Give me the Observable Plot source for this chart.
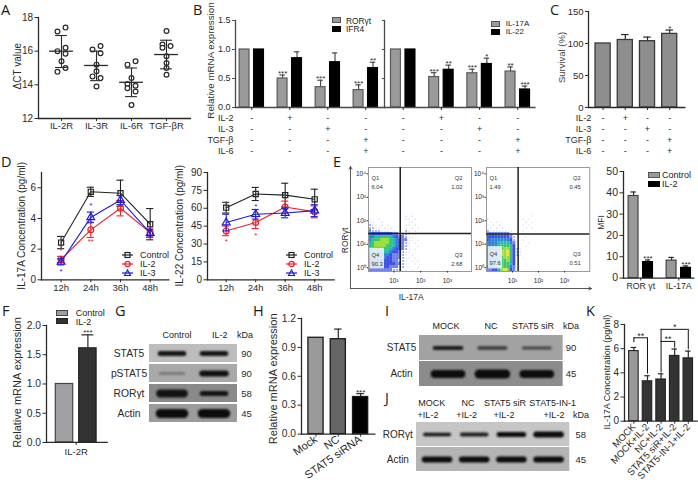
<!DOCTYPE html>
<html><head><meta charset="utf-8">
<script src="https://cdn.jsdelivr.net/npm/d3@7"></script>
<script src="https://cdn.jsdelivr.net/npm/@observablehq/plot@0.6"></script>
<style>
html,body{margin:0;padding:0;background:#fff}
#fig{position:relative;width:698px;height:483px;overflow:hidden;font-family:"Liberation Sans",Arial,sans-serif;color:#222}
.l{position:absolute;white-space:pre;line-height:1}
.s{position:absolute;box-sizing:border-box}
</style></head><body><div id="fig"></div>
<script>
/* ---------- data ---------- */
const recCats=["IL-2R","IL-3R","IL-6R","TGF-βR"];
const dCt=[[17.4,17.17,16.2,16.0,15.85,15.4,15.0,14.77],[16.1,16.3,15.88,15.2,14.8,14.5,14.4,13.9],[15.2,15.4,14.4,14.05,13.95,13.8,13.6,12.8],[17.2,16.4,16.3,16.2,15.7,15.3,15.0,14.6]];
const dCtSide=[[1,-1,1,-1,1,0,1,-1],[-1,1,1,0,0,-1,1,0],[-1,1,0,-1,1,-1,1,0],[0,-1,1,-1,0,0,0,0]];
const dCtMean=[16,15.15,14.15,15.8],dCtLo=[15.03,14.25,13.3,14.95],dCtHi=[16.93,16.0,15.0,16.65];

const treatRows=["IL-2","IL-3","TGF-β","IL-6"];
const treatSigns=[["-","+","-","-"],["-","-","+","-"],["-","-","-","+"],["-","-","-","+"]];

const rorgt=[1,.5,.35,.3],rorgtErr=[null,.56,.47,.39],rorgtSig=["","***","***","***"];
const ifr4=[1,.85,.78,.68],ifr4Err=[null,.96,.94,.78],ifr4Sig=["","","","**"];
const il17=[1,.525,.59,.62],il17Err=[null,.6,.66,.7],il17Sig=["","***","***","**"];
const il22=[1,.65,.75,.31],il22Err=[null,.73,.85,.37],il22Sig=["","**","*","***"];
const survival=[100,105.5,103.6,115],survivalErr=[null,114,110,121],survivalSig=["","","","*"];

const hours=["12h","24h","36h","48h"];
const d17={Control:{v:[2.43,5.74,5.65,3.63],e:[.4,.3,.85,1.02]},"IL-2":{v:[1.33,3.26,4.67,3.08],e:[.2,.5,.5,.3]},"IL-3":{v:[1.17,4.07,5.2,3.04],e:[.2,.35,.3,.25]}};
const d22={Control:{v:[60.5,72,71,67.5],e:[4.5,5.5,10,8.5]},"IL-2":{v:[41,48,61,57],e:[4,5,5,5]},"IL-3":{v:[48,55,56,58],e:[7,4,4,5]}};
const d17Sig=[{t:0,v:2.0,s:"*",k:"IL-2"},{t:0,v:.62,s:"*",k:"IL-3"},{t:1,v:4.9,s:"*",k:"IL-3"},{t:1,v:2.55,s:"**",k:"IL-2"}];
const d22Sig=[{t:0,v:33,s:"*",k:"IL-2"},{t:1,v:62,s:"*",k:"IL-3"},{t:1,v:38,s:"*",k:"IL-2"}];

const mfiCats=["ROR γt","IL-17A"];
const mfiControl=[38.5,8.2],mfiControlErr=[40.4,9.7],mfiIl2=[7.5,4.8],mfiIl2Err=[8.5,5.7],mfiSig=["***","***"];

const il2r=[1,1.61],il2rErr=[null,1.84],il2rSig=["","***"];
const siCats=["Mock","NC","STAT5 siRNA"];
const siVal=[1,.985,.385],siErr=[null,1.09,.42],siSig=["","","***"];
const kCats=["MOCK","MOCK+IL-2","NC+IL-2","STAT5 siR+IL-2","STAT5-IN-1+IL-2"];
const kVal=[5.8,3.3,3.45,5.4,5.2],kErr=[6.1,3.76,3.92,5.97,5.8];
const kBrackets=[{a:0,b:1,top:6.9,ea:6.5,eb:3.9,s:"**"},{a:2,b:3,top:6.6,ea:4,eb:6.05,s:"**"},{a:2,b:4,top:7.6,ea:6.6,eb:5.9,s:"*"}];

// flow cytometry densities (0 = empty, 9 = densest), top row first
const flowA=["000000000000101000","100100000000110100","110010000000011000","211010100000110100","221101010000101010","322211101010210100","544444443322210100","556667765433211000","567788876543311010","678888876543210100","678888776543210010","677777765443210100","666666654432110000","555555543332101000","555555443332110100","444444443322101010","444444444332100100","444444433322110010","333333332221101000"];
const flowB=["000000000000000100","100000000000101000","010100000000010100","101010000000101000","110101000000010100","211111101000100000","333333332100100000","444444443210010000","455555554210100000","555566665310001000","555567776410010000","555567887421000000","555568897421000000","555568897421000000","555567887410100000","555567786410000000","555567776410010000","445567775310000000","334468984310000000"];
const quadA=["6.04","1.02","2.68","90.3"],quadB=["1.49","0.45","0.51","97.6"];

const gLanes=["Control","IL-2"];
const gRows=["STAT5","pSTAT5","RORγt","Actin"],gKda=["90","90","58","45"];
const gBand=[[5,5],[2.5,6],[8,5],[9,9]],gDark=[[.95,.95],[.35,.98],[.95,.95],[1,1]];
const iLanes=["MOCK","NC","STAT5 siR"];
const iRows=["STAT5","Actin"],iKda=["90","45"];
const iBand=[[4,3.5,3],[8,9,8]],iDark=[[.9,.7,.65],[1,1,1]];
const jLanes1=["MOCK","NC","STAT5 siR","STAT5-IN-1"],jLanes2=["+IL-2","+IL-2","+IL-2","+IL-2"];
const jRows=["RORγt","Actin"],jKda=["58","45"];
const jBand=[[3.5,4,5,6],[6,6,6,6]],jDark=[[.95,.9,1,1],[1,1,1,1]];

/* ---------- helpers ---------- */
const fig=document.getElementById("fig");
const INK="#2a2a2a";
function panel(box,pad,opts,marks){
  const [x0,x1,y0,y1]=box,[pl,pr,pt,pb]=pad;
  const svg=Plot.plot({
    width:x1-x0+pl+pr,height:y1-y0+pt+pb,
    marginLeft:pl,marginRight:pr,marginTop:pt,marginBottom:pb,
    style:{position:"absolute",left:(x0-pl)+"px",top:(y0-pt)+"px",background:"transparent",overflow:"visible",maxWidth:"none",fontFamily:'"Liberation Sans",Arial,sans-serif',color:INK},
    ...opts,marks:marks.flat(Infinity)});
  fig.appendChild(svg);
}
const xd=(box,pos0,step)=>({type:"linear",domain:[(box[0]-pos0)/step,(box[1]-pos0)/step]});
const pt=(box,str,x,y,o={})=>Plot.text([str],{frameAnchor:"top-left",textAnchor:"middle",lineAnchor:"middle",dx:x-box[0],dy:y-box[2],fontSize:9.5,...o});
const axes=(yt,o={})=>[
  Plot.frame({anchor:"left",stroke:o.c||INK,strokeWidth:o.sw||1.3}),
  Plot.frame({anchor:"bottom",stroke:o.c||INK,strokeWidth:o.sw||1.3}),
  Plot.axisY({ticks:yt,tickSize:o.ts||3,tickPadding:o.tp||2,fontSize:o.fs||9.5,label:null,strokeWidth:1,tickFormat:o.yf||(d=>String(d)),stroke:o.c||INK})
];
const ser=(v,e,s,off)=>v.map((d,i)=>({x:i+off,v:d,e:e[i],s:s?s[i]:""}));
function bars(rows,hw,fill,stroke,o={}){
  const withE=rows.filter(d=>d.e!=null),cap=o.cap??hw*.55;
  return [
    Plot.ruleX(withE,{x:"x",y1:"v",y2:"e",stroke:o.ec||INK,strokeWidth:1.2}),
    Plot.ruleY(withE,{y:"e",x1:d=>d.x-cap,x2:d=>d.x+cap,stroke:o.ec||INK,strokeWidth:1.2}),
    Plot.rectY(rows,{x1:d=>d.x-hw,x2:d=>d.x+hw,y:"v",fill,stroke,strokeWidth:o.sw||1.2}),
    Plot.text(rows.filter(d=>d.s),{x:"x",y:d=>d.e??d.v,text:"s",lineAnchor:"bottom",dy:o.sdy??1,fontSize:o.sf||8,fill:INK})
  ];
}
const xTicks=(n,o={})=>Plot.axisX({ticks:d3.range(n),tickSize:3,tickPadding:o.tp??2,fontSize:o.fs||9.5,label:null,strokeWidth:1,tickFormat:o.f||(()=>""),...o.extra});
function label(t,x,y,o={}){
  const e=document.createElement("div");e.className="l";e.textContent=t;
  e.style.left=x+"px";e.style.top=y+"px";e.style.fontSize=(o.fs||9.5)+"px";
  e.style.transform=`translate(${o.ax??0}%,-50%)`;
  if(o.ff){e.style.fontFamily=o.ff;e.style.lineHeight="1.2";}
  if(o.c)e.style.color=o.c;
  fig.appendChild(e);
}
function swatch(x0,x1,y0,y1,fill,stroke){
  const e=document.createElement("div");e.className="s";
  e.style.cssText=`left:${x0}px;width:${x1-x0}px;top:${y0}px;height:${y1-y0}px;background:${fill};border:1px solid ${stroke}`;
  fig.appendChild(e);
}
function lineKey(x0,x1,y,c,sym){
  const w=x1-x0,ns="http://www.w3.org/2000/svg",s=document.createElementNS(ns,"svg");
  s.setAttribute("width",w);s.setAttribute("height",10);
  s.style.cssText=`position:absolute;left:${x0}px;top:${y-5}px`;
  const m=w/2;
  const shape=sym==="square"?`<rect x="${m-2.5}" y="2.5" width="5" height="5" fill="none" stroke="${c}" stroke-width="1.2"/>`:
    sym==="circle"?`<circle cx="${m}" cy="5" r="2.7" fill="none" stroke="${c}" stroke-width="1.2"/>`:
    `<path d="M${m-3} 7.5L${m} 2L${m+3} 7.5Z" fill="none" stroke="${c}" stroke-width="1.2"/>`;
  s.innerHTML=`<line x1="0" x2="${w}" y1="5" y2="5" stroke="${c}" stroke-width="1.2"/>${shape}`;
  fig.appendChild(s);
}

/* panel letters */
[["A",1,10],["B",193,10],["C",550,10],["D",1,162],["E",333,162],["F",2,311],["G",115,311],["H",253,311],["I",385,311],["J",385,398],["K",586,311]]
 .forEach(([t,x,y])=>label(t,x,y,{fs:14.5,ff:'"Open Sans",sans-serif',c:"#1a1a1a"}));

/* ---------- A ---------- */
{
  const box=[38,190,17,118];
  const pts=dCt.flatMap((g,i)=>g.map((v,j)=>({x:i+dCtSide[i][j]*.115,v})));
  const g=recCats.map((c,i)=>({i,m:dCtMean[i],lo:dCtLo[i],hi:dCtHi[i]}));
  panel(box,[30,8,6,14],{x:xd(box,61,35),y:{domain:[12,18]}},[
    axes([12,14,16,18],{fs:10,ts:3.5}),
    xTicks(4,{f:i=>recCats[i],fs:9.5,tp:1}),
    Plot.dot(pts,{x:"x",y:"v",r:2.4,stroke:INK,strokeWidth:1.2,fill:"white"}),
    Plot.ruleX(g,{x:"i",y1:"lo",y2:"hi",stroke:INK,strokeWidth:1.1}),
    Plot.ruleY(g,{y:"lo",x1:d=>d.i-.17,x2:d=>d.i+.17,stroke:INK,strokeWidth:1.1}),
    Plot.ruleY(g,{y:"hi",x1:d=>d.i-.17,x2:d=>d.i+.17,stroke:INK,strokeWidth:1.1}),
    Plot.ruleY(g,{y:"m",x1:d=>d.i-.34,x2:d=>d.i+.34,stroke:INK,strokeWidth:1.3}),
    pt(box,"ΔCT value",17,65.7,{rotate:-90,fontSize:10})
  ]);
}

/* ---------- B ---------- */
const signMarks=(box,fs=9)=>treatRows.map((r,i)=>Plot.text(treatSigns[i],{x:(d,j)=>j,frameAnchor:"bottom",lineAnchor:"middle",dy:10.5+10.9*i,fontSize:fs,fill:INK}));
const rowLabels=(box,x)=>treatRows.map((r,i)=>pt(box,r,x,117.5+10.9*i,{textAnchor:"end",fontSize:9}));
{
  const box=[235,384.3,20,107],G="#4a4a4a",BARG="#9a9a9a";
  panel(box,[22,0,4,48],{x:xd(box,251.3,38),y:{domain:[0,1.5]}},[
    bars(ser(rorgt,rorgtErr,rorgtSig,-.19),.13,BARG,"#5a5a5a",{ec:G}),
    bars(ser(ifr4,ifr4Err,ifr4Sig,.19),.13,"#000","#000",{ec:G}),
    axes([0,.5,1,1.5],{c:G,fs:9,yf:d3.format(".1f")}),
    xTicks(4,{tp:0}),signMarks(box),rowLabels(box,233),
    pt(box,"Relative mRNA expression",210,60,{rotate:-90,fontSize:9.8,fill:"#333"})
  ]);
  const b2=[384.3,534.7,20,107];
  panel(b2,[0,2,4,48],{x:xd(b2,403,38.2),y:{domain:[0,1.5]}},[
    bars(ser(il17,il17Err,il17Sig,-.19),.13,BARG,"#5a5a5a",{ec:G}),
    bars(ser(il22,il22Err,il22Sig,.19),.13,"#000","#000",{ec:G}),
    axes([0,.5,1,1.5],{c:G,yf:()=>"",ts:2}),
    xTicks(4,{tp:0}),signMarks(b2)
  ]);
  swatch(331.7,340.7,17,23,BARG,"#555");swatch(331.7,340.7,25.5,31.5,"#000","#000");
  label("RORγt",346,20.5,{fs:8.4});label("IFR4",346,29,{fs:8.4});
  swatch(490.7,500,21,27,BARG,"#555");swatch(490.7,500,29,35,"#000","#000");
  label("IL-17A",505.7,23.7,{fs:8});label("IL-22",505.7,32,{fs:8});
}

/* ---------- C ---------- */
{
  const box=[587.7,684,10.7,106.7];
  panel(box,[28,2,3,48],{x:xd(box,602.3,22.2),y:{domain:[0,150]}},[
    bars(ser(survival,survivalErr,survivalSig,0),.34,"#8e8e8e","#3a3a3a",{sw:1.3,cap:.17}),
    axes([0,50,100,150],{fs:9.5}),
    xTicks(4,{tp:0}),signMarks(box),rowLabels(box,590.5),
    pt(box,"Survival (%)",561,56.7,{rotate:-90,fontSize:9.5,fill:"#444"})
  ]);
}

/* ---------- D ---------- */
const COL={Control:"#222","IL-2":"#e8222c","IL-3":"#1c1cd8"},SYM={Control:"square","IL-2":"circle","IL-3":"triangle"};
function linePanel(box,pos0,step,ymax,yt,src,sig,ylabX,hwk){
  const rows=Object.entries(src).flatMap(([k,o])=>o.v.map((v,i)=>({k,t:i,v,lo:v-o.e[i],hi:v+o.e[i]})));
  const keys=Object.keys(src);
  panel(box,[30,4,4,16],{x:xd(box,pos0,step),y:{domain:[0,ymax]},color:{type:"identity"},symbol:{type:"identity"}},[
    axes(yt,{fs:10,ts:3.5}),
    xTicks(4,{f:i=>hours[i],fs:9.5,tp:1}),
    keys.map(k=>{const d=rows.filter(r=>r.k===k),c=COL[k];return [
      Plot.ruleX(d,{x:"t",y1:"lo",y2:"hi",stroke:c,strokeWidth:1.1}),
      Plot.ruleY(d,{y:"lo",x1:r=>r.t-.12,x2:r=>r.t+.12,stroke:c,strokeWidth:1.1}),
      Plot.ruleY(d,{y:"hi",x1:r=>r.t-.12,x2:r=>r.t+.12,stroke:c,strokeWidth:1.1}),
      Plot.line(d,{x:"t",y:"v",stroke:c,strokeWidth:1.1}),
      Plot.dot(d,{x:"t",y:"v",symbol:SYM[k],r:2.9,stroke:c,strokeWidth:1.2,fill:"none"})
    ];}),
    Plot.text(sig,{x:"t",y:"v",text:"s",fill:d=>COL[d.k],fontSize:8,lineAnchor:"middle",dy:1}),
    pt(box,src===d17?"IL-17A Concentration (pg/ml)":"IL-22 Concentration (pg/ml)",ylabX,225,{rotate:-90,fontSize:10})
  ]);
}
linePanel([40.7,168,171.7,279],60.3,29.7,7,[0,2,4,6],d17,d17Sig,21);
linePanel([207.3,334,171.7,279],226,29.5,90,[0,15,30,45,60,75,90],d22,d22Sig,180);
Object.keys(COL).forEach((k,i)=>{
  const y=255+9*i;
  lineKey(122,133,y,COL[k],SYM[k]);label(k,140,y,{fs:9});
  lineKey(286,297,y,COL[k],SYM[k]);label(k,304,y,{fs:9});
});

/* ---------- E flow plots ---------- */
const SUP=["⁰","¹","²","³","⁴"];
function flow(box,dom,grid,gx,gy,quad,wbox){
  const bx=.1125,by=.1275;
  const cells=grid.flatMap((s,r)=>[...s].map((c,col)=>({col,r:grid.length-1-r,d:+c}))).filter(d=>d.d>0);
  const yd=[-.16,4.27];
  const lab=(s,ax,dx,dy,fs=5.8)=>Plot.text([s],{frameAnchor:ax,dx,dy,fontSize:fs,fill:"#333"});
  panel(box,[16,2,3,14],{
    x:{type:"linear",domain:dom},y:{type:"linear",domain:yd},r:{type:"identity"},
    color:{type:"linear",domain:[1,2,3,4,5,6,7,8,9],range:["#b8c2f6","#8d9bf0","#6f82ee","#3d50e4","#2a86d8","#27b9b4","#35c86a","#9cdc3a","#ece23a"],clamp:true}
  },[
    Plot.rect(cells.filter(d=>d.d>=3),{x1:d=>dom[0]+d.col*bx,x2:d=>dom[0]+(d.col+1)*bx,y1:d=>yd[0]+d.r*by,y2:d=>yd[0]+(d.r+1)*by,fill:"d",inset:0,imageFilter:"blur(0.6px)"}),
    Plot.dot(cells.filter(d=>d.d<3),{x:d=>dom[0]+(d.col+.5)*bx,y:d=>yd[0]+(d.r+.5)*by,r:d=>d.d===1?.6:1,fill:"d",stroke:"none"}),
    Plot.rect([wbox],{x1:"x1",x2:"x2",y1:"y1",y2:"y2",fill:"#f2f6f4",fillOpacity:.88}),
    Plot.frame({stroke:"#999",strokeWidth:1}),
    Plot.ruleX([gx],{stroke:"#111",strokeWidth:1.4}),
    Plot.ruleY([gy],{stroke:"#222",strokeWidth:1.4}),
    Plot.axisY({ticks:[0,1,2,3,4],tickSize:1.5,tickPadding:1,fontSize:6.5,tickFormat:d=>"10"+SUP[d],label:null}),
    Plot.axisX({ticks:[1,2,3],tickSize:1.5,tickPadding:5,fontSize:6.5,tickFormat:d=>"10"+SUP[d],label:null}),
    lab("Q1","top-left",3,8),lab(quad[0],"top-left",3,17),
    lab("Q2","top-right",-9,8),lab(quad[1],"top-right",-9,17),
    lab("Q3","bottom-right",-9,-15),lab(quad[2],"bottom-right",-9,-6),
    lab("Q4","bottom-left",3,-15),lab(quad[3],"bottom-left",3,-6)
  ]);
}
flow([367.7,470.7,166.7,270.7],[.05,3.9],flowA,1.236,1.46,quadA,{x1:.1,x2:.65,y1:-.05,y2:.83});
flow([485.7,589,166.7,270.7],[0,3.97],flowB,1.215,1.44,quadB,{x1:.07,x2:.62,y1:-.05,y2:.9});
{
  const box=[350,591,166,288];
  panel(box,[10,4,4,16],{x:{domain:[0,1],axis:null},y:{domain:[0,1],axis:null}},[
    Plot.arrow([{}],{x1:()=>0,y1:()=>0,x2:()=>1,y2:()=>0,stroke:"#444",strokeWidth:.9,headLength:5}),
    Plot.arrow([{}],{x1:()=>0,y1:()=>0,x2:()=>0,y2:()=>1,stroke:"#444",strokeWidth:.9,headLength:5}),
    pt(box,"RORγt",345,240,{rotate:-90,fontSize:8.5}),
    pt(box,"IL-17A",410.7,297,{fontSize:8.5})
  ]);
}
{
  const box=[622.7,693,170.7,277.3];
  panel(box,[24,2,3,16],{x:xd(box,640,38),y:{domain:[0,50]}},[
    bars(ser(mfiControl,mfiControlErr,null,-.19),.13,"#999","#444"),
    bars(ser(mfiIl2,mfiIl2Err,mfiSig,.19),.13,"#000","#000"),
    axes([0,10,20,30,40,50],{fs:10.5,ts:3.5}),
    xTicks(2,{f:i=>mfiCats[i],fs:8.8,tp:2}),
    pt(box,"MFI",600,221.7,{rotate:-90,fontSize:8.5})
  ]);
  swatch(648,660,172,178,"#999","#555");swatch(648,660,181,187,"#000","#000");
  label("Control",662,175,{fs:9});label("IL-2",662,184,{fs:9});
}

/* ---------- F ---------- */
{
  const box=[46,106.7,325,442];
  panel(box,[30,2,8,16],{x:xd(box,75.7,30),y:{domain:[0,2]}},[
    bars([{x:-.39,v:il2r[0],e:il2rErr[0],s:il2rSig[0]}],.29,"#a0a0a4","#444"),
    bars([{x:.39,v:il2r[1],e:il2rErr[1],s:il2rSig[1]}],.29,"#333","#222",{cap:.2,sdy:0}),
    axes([0,.5,1,1.5,2],{fs:10.3,ts:3.5,yf:d3.format(".1f")}),
    xTicks(1,{f:()=>"IL-2R",fs:9.5,tp:3}),
    pt(box,"Relative mRNA expression",16.7,382,{rotate:-90,fontSize:11})
  ]);
  swatch(56,68,310,316,"#a0a0a4","#444");swatch(56,68,318,324,"#333","#222");
  label("Control",75.7,313,{fs:9});label("IL-2",75.7,322,{fs:9});
}

/* ---------- blots ---------- */
function blot(box,step,rows,kda,band,dark,bgs,nameX,kdaX,gap=.08){
  const [x0,x1]=[box[0],box[1]];
  const pos0=box.pos0;
  const scaleX=xd(box,pos0,step),dm=scaleX.domain;
  const rs=rows.map((name,i)=>({name,kda:kda[i],bg:bgs[i]}));
  const bs=rows.flatMap((name,i)=>band[i].map((t,l)=>({name,l,t,o:dark[i][l]})));
  panel(box,[Math.ceil(x0-nameX+25),24,2,2],{x:{...scaleX,axis:null},y:{type:"band",domain:rows,paddingInner:gap,paddingOuter:0,axis:null},color:{type:"identity"}},[
    Plot.barX(rs,{x1:()=>dm[0],x2:()=>dm[1],y:"name",fill:"bg",insetTop:0,insetBottom:0}),
    Plot.ruleY(bs,{y:"name",x1:d=>d.l-box.hw,x2:d=>d.l+box.hw,stroke:"#0c0c0c",strokeOpacity:"o",strokeWidth:"t",strokeLinecap:"round",imageFilter:"blur(0.9px)"}),
    Plot.text(rs,{y:"name",text:"name",frameAnchor:"left",textAnchor:"middle",dx:nameX-x0,fontSize:box.fs||10.3,fill:INK}),
    Plot.text(rs,{y:"name",text:"kda",frameAnchor:"left",textAnchor:"middle",dx:kdaX-x0,fontSize:box.fs2||9.5,fill:INK})
  ]);
}
{ // G
  const box=Object.assign([149,237,342,424],{pos0:172,hw:.28,fs:10.3,fs2:9.5});
  blot(box,42,gRows,gKda,gBand,gDark,["#bdbdbd","#a9a9a9","#8a8a8a","#9c9c9c"],128.5,246,.09);
  gLanes.forEach((t,i)=>label(t,[177,219.7][i],334.5,{fs:9,ax:-50}));
  label("kDa",245,334.5,{fs:9,ax:-50});
}
{ // I
  const box=Object.assign([419,562.7,334,386.7],{pos0:448,hw:.3,fs:10,fs2:9.5});
  blot(box,44.4,iRows,iKda,iBand,iDark,["#a2a2a2","#8c8c8c"],401,570.5,.04);
  iLanes.forEach((t,i)=>label(t,[446,491,533][i],326,{fs:9,ax:-50}));
  label("kDa",571,326,{fs:9,ax:-50});
}
{ // J
  const box=Object.assign([415.7,569,421.7,470.7],{pos0:436.7,step:37,hw:.33,fs:10,fs2:9.5});
  blot(box,37.2,jRows,jKda,jBand,jDark,["#c6c6c6","#b4b4b4"],397,580,.05);
  jLanes1.forEach((t,i)=>label(t,[431.7,468,505,552.7][i],403.3,{fs:9,ax:-50}));
  jLanes2.forEach((t,i)=>label(t,[428,466.7,504,554][i],415,{fs:9,ax:-50}));
  label("kDa",581,415,{fs:9,ax:-50});
}

/* ---------- H ---------- */
{
  const box=[300.7,374,317.7,433.3];
  const fills=["#9a9a9a","#666","#000"];
  const rows=ser(siVal,siErr,siSig,0);
  panel(box,[32,2,3,40],{x:xd(box,315.2,22.3),y:{domain:[0,1.2]},color:{type:"identity"}},[
    rows.map((r,i)=>bars([r],.34,fills[i],"#1a1a1a",{cap:.17,sw:1.3})),
    axes([0,.3,.6,.9,1.2],{fs:10.3,ts:3.5,yf:d3.format(".1f")}),
    Plot.axisX({ticks:[0,1,2],tickSize:3,tickPadding:1,fontSize:11,label:null,tickRotate:-35,textAnchor:"end",tickFormat:i=>siCats[i],strokeWidth:1}),
    pt(box,"Relative mRNA expression",272.7,378,{rotate:-90,fontSize:11})
  ]);
}

/* ---------- K ---------- */
{
  const box=[624.3,697,324.3,421];
  const fills=["#999","#333","#333","#333","#333"];
  const rows=ser(kVal,kErr,null,0);
  panel(box,[24,1,10,60],{x:xd(box,633.7,13.6),y:{domain:[0,8]}},[
    rows.map((r,i)=>bars([r],.35,fills[i],"#222",{cap:.2,sw:1.1})),
    axes([0,2,4,6,8],{fs:10,ts:3.5}),
    Plot.axisX({ticks:[0,1,2,3,4],tickSize:3,tickPadding:1,fontSize:9.6,label:null,tickRotate:-47,textAnchor:"end",tickFormat:i=>kCats[i],strokeWidth:1}),
    Plot.ruleY(kBrackets,{y:"top",x1:"a",x2:"b",stroke:"#111",strokeWidth:1}),
    Plot.ruleX(kBrackets,{x:"a",y1:"top",y2:"ea",stroke:"#111",strokeWidth:1}),
    Plot.ruleX(kBrackets,{x:"b",y1:"top",y2:"eb",stroke:"#111",strokeWidth:1}),
    Plot.text(kBrackets,{x:d=>(d.a+d.b)/2,y:"top",text:"s",lineAnchor:"bottom",dy:1,fontSize:9,fill:INK}),
    pt(box,"IL-17A Concentration (pg/ml)",606.7,372,{rotate:-90,fontSize:9})
  ]);
}
</script></body></html>
